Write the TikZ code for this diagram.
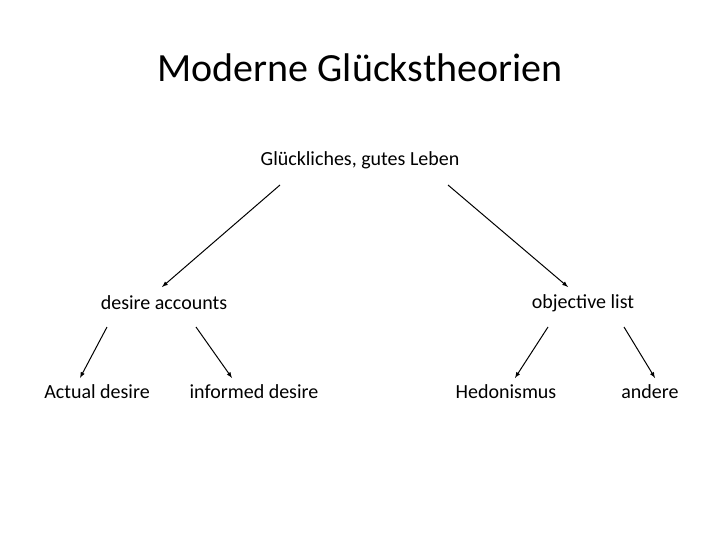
\documentclass[tikz,border=0pt]{standalone}
\usepackage{fontspec}
\setmainfont{Carlito}
\usetikzlibrary{arrows}
\tikzset{label/.style={inner sep=0pt,font=\fontsize{20}{24}\selectfont},
  branch/.style={-latex,thin,line width=1pt}}
\begin{document}
\begin{tikzpicture}[x=1pt,y=-1pt]
\useasboundingbox (0,0) rectangle (720,540);
%texts
\node (title) at (360,68) {\fontsize{40}{48}\selectfont Moderne Glückstheorien};
\node[label] (root) at (360,160) {Glückliches, gutes Leben};
\node[label] (desire) at (164,303) {desire accounts};
\node[label] (objective) at (583,303) {objective list};
\node[label] (actual) at (97,392) {Actual desire};
\node[label] (informed) at (254,392) {informed desire};
\node[label] (hedon) at (506,392) {Hedonismus};
\node[label] (andere) at (650,392) {andere};
%arrow ends
\coordinate (r1) at (280,185); \coordinate (r2) at (448,185);
\coordinate (d0) at (162,287); \coordinate (o0) at (568,287);
\coordinate (d1) at (107,327); \coordinate (d2) at (196,327);
\coordinate (o1) at (548,327); \coordinate (o2) at (624,327);
\coordinate (a0) at (80,378); \coordinate (i0) at (232,378);
\coordinate (h0) at (515,378); \coordinate (e0) at (655,378);
%branches
\draw[branch] (r1) -- (d0);
\draw[branch] (r2) -- (o0);
\draw[branch] (d1) -- (a0);
\draw[branch] (d2) -- (i0);
\draw[branch] (o1) -- (h0);
\draw[branch] (o2) -- (e0);
\end{tikzpicture}
\end{document}
